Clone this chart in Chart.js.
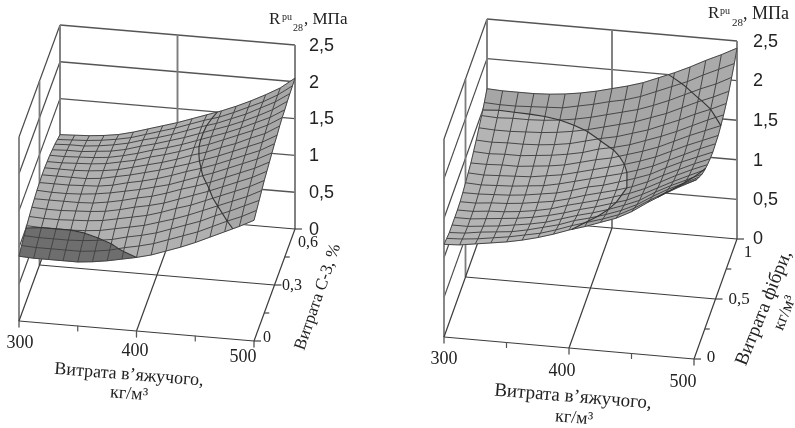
<!DOCTYPE html>
<html><head><meta charset="utf-8">
<style>
html,body{margin:0;padding:0;background:#fff;width:795px;height:428px;overflow:hidden}
canvas{position:absolute;top:0;filter:blur(0.35px)}
#a{left:0}#b{left:397px}
</style>
<script src="https://cdn.jsdelivr.net/npm/chart.js@4/dist/chart.umd.min.js"></script>
</head><body>
<canvas id="a" width="397" height="428"></canvas>
<canvas id="b" width="398" height="428"></canvas>
<script>
// Binder consumption (kg/m3) ticks and minor ticks
const binderTicks = [300, 400, 500];
const binderMinor = [350, 450];
const strengthTicks = [0, 0.5, 1, 1.5, 2, 2.5];
const strengthLabels = ['0', '0,5', '1', '1,5', '2', '2,5'];
const c3Ticks = [0, 0.3, 0.6];
const c3Minor = [0.15, 0.45];
const c3Labels = ['0', '0,3', '0,6'];
const fibreTicks = [0, 0.5, 1];
const fibreMinor = [0.25, 0.75];
const fibreLabels = ['0', '0,5', '1'];
const gridSteps = 16;

// Strength read from the surface: one row per binder step (300..500), one value per additive step.
const strengthByC3 = [
[.88,.93,.97,1.01,1.04,1.07,1.09,1.11,1.12,1.13,1.13,1.12,1.11,1.09,1.07,1.04,1.01],
[.87,.92,.96,1.00,1.03,1.06,1.09,1.10,1.12,1.13,1.13,1.12,1.11,1.10,1.08,1.05,1.02],
[.87,.92,.96,1.00,1.03,1.06,1.09,1.10,1.12,1.13,1.13,1.13,1.12,1.10,1.08,1.06,1.03],
[.87,.92,.96,1.00,1.04,1.07,1.09,1.11,1.13,1.13,1.14,1.14,1.13,1.12,1.10,1.08,1.05],
[.87,.92,.97,1.01,1.05,1.08,1.10,1.13,1.14,1.15,1.16,1.16,1.15,1.14,1.13,1.11,1.08],
[.89,.94,.99,1.03,1.07,1.10,1.13,1.16,1.17,1.19,1.19,1.20,1.19,1.18,1.17,1.15,1.13],
[.92,.97,1.02,1.07,1.11,1.14,1.17,1.20,1.22,1.23,1.24,1.24,1.24,1.24,1.23,1.21,1.19],
[.96,1.02,1.07,1.11,1.15,1.19,1.22,1.24,1.26,1.28,1.29,1.30,1.30,1.29,1.28,1.27,1.25],
[1.00,1.06,1.11,1.15,1.19,1.23,1.26,1.29,1.31,1.33,1.34,1.35,1.35,1.35,1.34,1.33,1.31],
[1.05,1.11,1.16,1.21,1.25,1.28,1.32,1.34,1.37,1.39,1.40,1.41,1.41,1.41,1.41,1.40,1.38],
[1.12,1.18,1.23,1.27,1.32,1.35,1.39,1.41,1.44,1.45,1.47,1.48,1.48,1.48,1.48,1.47,1.45],
[1.19,1.25,1.30,1.34,1.38,1.42,1.45,1.48,1.50,1.52,1.53,1.54,1.55,1.55,1.54,1.53,1.52],
[1.27,1.32,1.37,1.42,1.46,1.49,1.52,1.55,1.57,1.59,1.61,1.62,1.62,1.62,1.62,1.61,1.60],
[1.36,1.41,1.46,1.50,1.54,1.57,1.60,1.63,1.65,1.67,1.68,1.70,1.70,1.70,1.70,1.70,1.69],
[1.45,1.50,1.54,1.58,1.62,1.65,1.68,1.71,1.73,1.75,1.77,1.78,1.79,1.79,1.80,1.79,1.79],
[1.54,1.58,1.63,1.66,1.70,1.73,1.76,1.79,1.81,1.83,1.85,1.87,1.88,1.89,1.90,1.90,1.90],
[1.64,1.68,1.72,1.76,1.80,1.83,1.86,1.89,1.92,1.94,1.97,1.99,2.00,2.02,2.03,2.04,2.05]
];
const strengthByFibre = [
[1.17,1.15,1.13,1.13,1.13,1.13,1.14,1.16,1.19,1.22,1.25,1.30,1.35,1.41,1.47,1.54,1.62],
[1.18,1.16,1.14,1.13,1.13,1.13,1.14,1.16,1.18,1.21,1.25,1.29,1.34,1.40,1.46,1.53,1.61],
[1.21,1.18,1.17,1.15,1.15,1.15,1.16,1.17,1.19,1.22,1.26,1.30,1.35,1.40,1.47,1.53,1.61],
[1.24,1.21,1.19,1.17,1.17,1.16,1.17,1.18,1.20,1.23,1.26,1.30,1.35,1.41,1.47,1.54,1.61],
[1.27,1.24,1.21,1.20,1.19,1.18,1.19,1.20,1.22,1.24,1.28,1.32,1.36,1.42,1.48,1.55,1.62],
[1.31,1.28,1.25,1.23,1.22,1.21,1.22,1.23,1.24,1.27,1.30,1.34,1.38,1.44,1.50,1.56,1.64],
[1.36,1.32,1.30,1.27,1.26,1.25,1.25,1.26,1.28,1.30,1.33,1.37,1.41,1.47,1.53,1.60,1.67],
[1.42,1.38,1.35,1.33,1.31,1.31,1.30,1.31,1.33,1.35,1.38,1.41,1.46,1.51,1.57,1.64,1.71],
[1.49,1.45,1.42,1.39,1.37,1.36,1.36,1.37,1.38,1.40,1.43,1.47,1.51,1.56,1.62,1.69,1.76],
[1.55,1.51,1.47,1.44,1.42,1.41,1.41,1.41,1.43,1.45,1.47,1.51,1.55,1.61,1.67,1.73,1.81],
[1.62,1.57,1.53,1.50,1.48,1.47,1.46,1.47,1.48,1.50,1.53,1.56,1.61,1.66,1.72,1.79,1.87],
[1.69,1.64,1.60,1.57,1.54,1.53,1.52,1.53,1.54,1.56,1.59,1.63,1.67,1.73,1.79,1.87,1.95],
[1.79,1.74,1.69,1.65,1.63,1.61,1.60,1.60,1.61,1.63,1.66,1.70,1.75,1.80,1.87,1.95,2.03],
[1.92,1.86,1.81,1.77,1.73,1.71,1.70,1.70,1.70,1.72,1.75,1.78,1.83,1.89,1.96,2.03,2.12],
[2.04,1.97,1.92,1.87,1.83,1.81,1.79,1.79,1.79,1.81,1.84,1.87,1.92,1.98,2.05,2.13,2.22],
[2.15,2.08,2.01,1.96,1.92,1.90,1.88,1.87,1.88,1.89,1.92,1.96,2.00,2.06,2.13,2.22,2.31],
[2.25,2.17,2.11,2.05,2.01,1.98,1.96,1.95,1.96,1.97,2.00,2.04,2.09,2.15,2.23,2.31,2.41]
];

const SERIF = '"Liberation Serif"';
const SANS = '"Liberation Sans"';
const INK = '#222';
const panels = [
 { id:'a', xMin:0, xMax:397, origin:[19,321], xVec:[235,20], yVec:[41,-112], zUnit:73.6,
   yMax:0.6, yTicks:c3Ticks, yMinor:c3Minor, surface:strengthByC3,
   levels:[1,1.5], bandColors:['#6e6e6e','#b0b0b0','#a8a8a8'],
   texts:[
    ['R',269,20,'17px '+SERIF,0,'left'],['pu',282,17,'10px '+SERIF,0,'left'],['28',293,28,'10px '+SERIF,0,'left'],
    [', МПа',304,20,'17px '+SERIF,0,'left'],
    ...strengthLabels.map((s,i)=>[s,309,[230,193,156,119,83,46][i],'18px '+SANS,0,'left']),
    ...['300','400','500'].map((s,i)=>[s,[20,135,243][i],[343,351,357][i],'18px '+SERIF,0,'center']),
    ...c3Labels.map((s,i)=>[s,[267,292,308][i],[338,286,243][i],'16px '+SERIF,0,'center']),
    ['Витрата в’яжучого,',129,375,'18px '+SERIF,4.5,'center'],['кг/м³',129,394,'18px '+SERIF,4.5,'center'],
    ['Витрата С-3, %',318,297,'17px '+SERIF,-71,'center']
   ]},
 { id:'b', xMin:397, xMax:795, origin:[444,337], xVec:[250,22], yVec:[43,-120], zUnit:79.2,
   yMax:1, yTicks:fibreTicks, yMinor:fibreMinor, surface:strengthByFibre,
   levels:[1.5,2], bandColors:['#b4b4b4','#a6a6a6','#aaaaaa'],
   texts:[
    ['R',708,14,'17px '+SERIF,0,'left'],['pu',720,11,'10px '+SERIF,0,'left'],['28',732,23,'11px '+SERIF,0,'left'],
    [', МПа',743,14,'18px '+SERIF,0,'left'],
    ...strengthLabels.map((s,i)=>[s,753,[239,200,161,121,81,42][i],'18px '+SANS,0,'left']),
    ...['300','400','500'].map((s,i)=>[s,[444,562,683][i],[359,371,382][i],'18px '+SERIF,0,'center']),
    ...fibreLabels.map((s,i)=>[s,[711,739,748][i],[358,300,253][i],'17px '+SERIF,0,'center']),
    ['Витрата в’яжучого,',573,397,'19px '+SERIF,4.7,'center'],['кг/м³',574,418,'18px '+SERIF,4.7,'center'],
    ['Витрата фібри,',764,308,'19px '+SERIF,-68,'center'],['кг/м³',785,313,'17px '+SERIF,-68,'center']
   ]}
];

function buildDatasets(p){
  const top = strengthTicks[strengthTicks.length-1];
  const project = (x,y,z)=>{
    const u=(x-300)/200, v=y/p.yMax;
    return {x:p.origin[0]+u*p.xVec[0]+v*p.yVec[0], y:p.origin[1]+u*p.xVec[1]+v*p.yVec[1]-z*p.zUnit};
  };
  const out=[];
  const line=(pts,color,width)=>out.push({data:pts,showLine:true,pointRadius:0,borderColor:color,borderWidth:width,fill:false,tension:0,borderJoinStyle:'round'});
  const [xa,xm,xb]=binderTicks, ya=0, ym=p.yMax/2, yb=p.yMax;
  // back and side walls
  for(const z of strengthTicks){
    if(z>0){
      line([project(xa,yb,z),project(xb,yb,z)],'#555',1.4);
      line([project(xa,ya,z),project(xa,yb,z)],'#4a4a4a',1.2);
    }
  }
  for(const x of binderTicks) line([project(x,yb,0),project(x,yb,top)],'#7c7c7c',1.9);
  line([project(xa,ya,0),project(xa,ya,top)],'#7c7c7c',1.8);
  line([project(xa,ym,0),project(xa,ym,top)],'#7c7c7c',1.8);
  // floor
  line([project(xa,ya,0),project(xb,ya,0)],'#3c3c3c',1.2);
  line([project(xb,ya,0),project(xb,yb,0)],'#3c3c3c',1.2);
  line([project(xa,yb,0),project(xb,yb,0)],'#3c3c3c',1.2);
  line([project(xa,ya,0),project(xa,yb,0)],'#3c3c3c',1.2);
  line([project(xm,ya,0),project(xm,yb,0)],'#3c3c3c',1.2);
  line([project(xa,ym,0),project(xb,ym,0)],'#3c3c3c',1.2);
  // ticks
  const off=(pt,dx,dy)=>({x:pt.x+dx,y:pt.y+dy});
  for(const x of binderTicks){const q=project(x,0,0);line([q,off(q,0,6)],'#555',1.3);}
  for(const x of binderMinor){const q=project(x,0,0);line([q,off(q,0,5)],'#555',1.2);}
  for(const y of p.yTicks){const q=project(xb,y,0);line([q,off(q,7,0)],'#444',1.2);}
  for(const y of p.yMinor){const q=project(xb,y,0);line([q,off(q,5,0)],'#444',1.2);}
  // surface patches, far to near, split by strength level
  const S=p.surface, n=gridSteps;
  const vert=(i,j)=>{const x=300+200*i/n,y=p.yMax*j/n,z=S[i][j];return Object.assign(project(x,y,z),{z});};
  const cut=(poly,level,above)=>{
    const r=[];
    for(let k=0;k<poly.length;k++){
      const a=poly[k],b=poly[(k+1)%poly.length];
      const ina=above?a.z>=level:a.z<level, inb=above?b.z>=level:b.z<level;
      if(ina) r.push(a);
      if(ina!==inb){const t=(level-a.z)/(b.z-a.z);r.push({x:a.x+t*(b.x-a.x),y:a.y+t*(b.y-a.y),z:level});}
    }
    return r;
  };
  const patch=(poly,color)=>{
    if(poly.length<3)return;
    out.push({data:[...poly.map(q=>({x:q.x,y:q.y})),{x:poly[0].x,y:poly[0].y}],showLine:true,pointRadius:0,
      fill:'shape',backgroundColor:color,borderColor:color,borderWidth:0.7,tension:0});
  };
  for(let j=n-1;j>=0;j--)for(let i=0;i<n;i++){
    const q=[vert(i,j),vert(i+1,j),vert(i+1,j+1),vert(i,j+1)];
    const low=cut(q,p.levels[0],false), rest=cut(q,p.levels[0],true);
    patch(low,p.bandColors[0]);
    if(rest.length>=3){
      patch(cut(rest,p.levels[1],false),p.bandColors[1]);
      patch(cut(rest,p.levels[1],true),p.bandColors[2]);
    }
  }
  // mesh
  for(let i=0;i<=n;i++){const a=[];for(let j=0;j<=n;j++){const v=vert(i,j);a.push({x:v.x,y:v.y});}line(a,'#404040',0.95);}
  for(let j=0;j<=n;j++){const a=[];for(let i=0;i<=n;i++){const v=vert(i,j);a.push({x:v.x,y:v.y});}line(a,'#404040',0.95);}
  // level contours
  for(const L of p.levels){
    for(let j=0;j<n;j++)for(let i=0;i<n;i++){
      const q=[vert(i,j),vert(i+1,j),vert(i+1,j+1),vert(i,j+1)],c=[];
      for(let k=0;k<4;k++){const a=q[k],b=q[(k+1)%4];
        if((a.z<L)!==(b.z<L)){const t=(L-a.z)/(b.z-a.z);c.push({x:a.x+t*(b.x-a.x),y:a.y+t*(b.y-a.y)});}}
      if(c.length>=2) line(c.slice(0,2),'#333',1.1);
    }
  }
  return out.reverse(); // Chart.js paints the first dataset last
}

const textPlugin={id:'panelText',afterDraw(chart,args,opts){
  const ctx=chart.ctx;
  for(const [s,x,y,font,rot,align] of opts.items){
    ctx.save();
    ctx.translate(x-opts.shift,y);
    ctx.rotate(rot*Math.PI/180);
    ctx.font=font;ctx.fillStyle=INK;ctx.textAlign=align;ctx.textBaseline='middle';
    ctx.fillText(s,0,0);
    ctx.restore();
  }
}};

for(const p of panels){
  new Chart(document.getElementById(p.id),{
    type:'scatter',
    data:{datasets:buildDatasets(p)},
    plugins:[textPlugin],
    options:{
      responsive:false,animation:false,events:[],
      layout:{padding:0},
      plugins:{legend:{display:false},tooltip:{enabled:false},
        panelText:{items:p.texts,shift:p.xMin}},
      scales:{
        x:{type:'linear',display:false,min:p.xMin,max:p.xMax},
        y:{type:'linear',display:false,min:0,max:428,reverse:true}
      }
    }
  });
}
</script>
</body></html>
